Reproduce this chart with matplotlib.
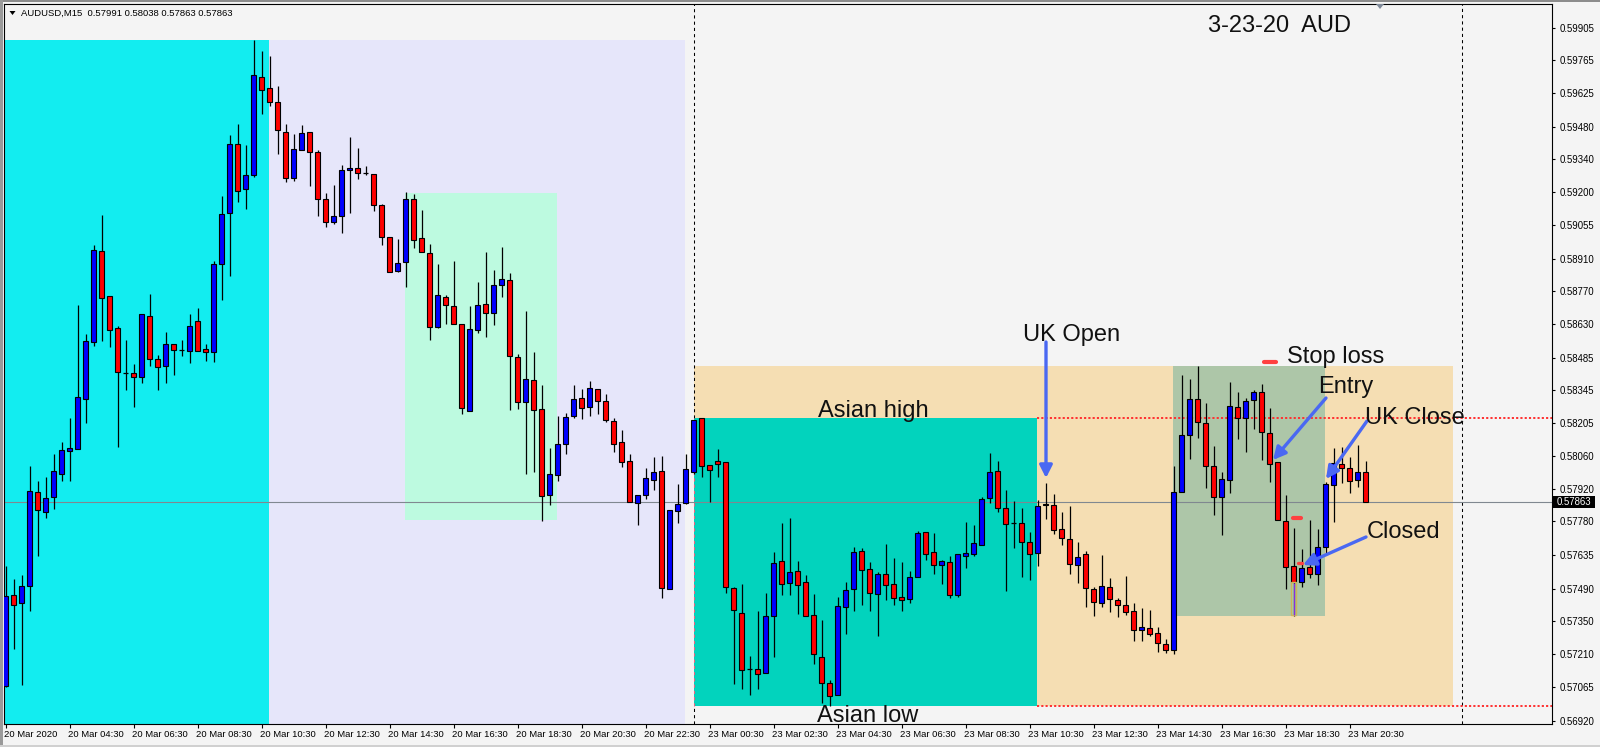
import matplotlib
matplotlib.use('Agg')
import matplotlib.pyplot as plt
from matplotlib.patches import Rectangle, FancyArrowPatch, Polygon
import matplotlib.transforms as mtransforms
import numpy as np

plt.rcParams['font.family'] = ['Liberation Sans', 'DejaVu Sans']

# ---------------- data (AUDUSD M15, bars from 20 Mar 02:30) ----------------
opens = [0.57072, 0.57461, 0.57429, 0.57501, 0.57905, 0.57820, 0.57885, 0.57985, 0.58083, 0.58092,
         0.58309, 0.58552, 0.58943, 0.58749, 0.58612, 0.58421, 0.58421, 0.58403, 0.58663, 0.58478,
         0.58447, 0.58543, 0.58516, 0.58512, 0.58641, 0.58521, 0.58509, 0.58887, 0.59108, 0.59404,
         0.59212, 0.59270, 0.59692, 0.59645, 0.59585, 0.59455, 0.59258, 0.59381, 0.59455, 0.59369,
         0.59167, 0.59069, 0.59093, 0.59292, 0.59301, 0.59281, 0.59275, 0.59141, 0.59003, 0.58860,
         0.58898, 0.59170, 0.59000, 0.58935, 0.58617, 0.58746, 0.58706, 0.58632, 0.58257, 0.58603,
         0.58715, 0.58677, 0.58797, 0.58818, 0.58486, 0.58294, 0.58387, 0.58263, 0.57892, 0.57978,
         0.58112, 0.58232, 0.58310, 0.58272, 0.58349, 0.58297, 0.58214, 0.58120, 0.58038, 0.57858,
         0.57892, 0.57957, 0.57995, 0.57488, 0.57826, 0.57858, 0.57994, 0.58223, 0.58022, 0.58039,
         0.58035, 0.57491, 0.57384, 0.57146, 0.57143, 0.57125, 0.57372, 0.57608, 0.57514, 0.57565,
         0.57518, 0.57376, 0.57195, 0.57083, 0.57031, 0.57413, 0.57488, 0.57651, 0.57574, 0.57466,
         0.57553, 0.57509, 0.57453, 0.57445, 0.57539, 0.57733, 0.57647, 0.57591, 0.57604, 0.57461,
         0.57630, 0.57640, 0.57680, 0.57880, 0.57996, 0.57837, 0.57772, 0.57772, 0.57690, 0.57643,
         0.57851, 0.57849, 0.57746, 0.57703, 0.57591, 0.57638, 0.57489, 0.57427, 0.57496, 0.57440,
         0.57419, 0.57393, 0.57313, 0.57320, 0.57298, 0.57252, 0.57225, 0.57905, 0.58151, 0.58306,
         0.58202, 0.58019, 0.57884, 0.57957, 0.58271, 0.58224, 0.58301, 0.58336, 0.58159, 0.58034,
         0.57780, 0.57587, 0.57518, 0.57582, 0.57555, 0.57668, 0.57935, 0.58026, 0.58008, 0.57958,
         0.57991]
highs = [0.57588, 0.57530, 0.57548, 0.58019, 0.57954, 0.57972, 0.58070, 0.58123, 0.58226, 0.58711,
         0.58588, 0.58969, 0.59099, 0.58749, 0.58621, 0.58561, 0.58458, 0.58672, 0.58760, 0.58498,
         0.58596, 0.58543, 0.58561, 0.58672, 0.58699, 0.58545, 0.58900, 0.59179, 0.59443, 0.59491,
         0.59402, 0.59853, 0.59804, 0.59786, 0.59654, 0.59490, 0.59449, 0.59487, 0.59455, 0.59379,
         0.59195, 0.59229, 0.59315, 0.59435, 0.59389, 0.59310, 0.59275, 0.59147, 0.59003, 0.58996,
         0.59198, 0.59189, 0.59121, 0.58973, 0.58889, 0.58755, 0.58901, 0.58632, 0.58707, 0.58810,
         0.58940, 0.58863, 0.58961, 0.58849, 0.58501, 0.58686, 0.58509, 0.58367, 0.58098, 0.58235,
         0.58247, 0.58367, 0.58350, 0.58384, 0.58349, 0.58329, 0.58224, 0.58174, 0.58071, 0.57892,
         0.58011, 0.58058, 0.58061, 0.57828, 0.57941, 0.58070, 0.58217, 0.58225, 0.58022, 0.58092,
         0.58035, 0.57496, 0.57511, 0.57201, 0.57395, 0.57472, 0.57649, 0.57773, 0.57795, 0.57610,
         0.57550, 0.57468, 0.57356, 0.57098, 0.57455, 0.57519, 0.57670, 0.57664, 0.57606, 0.57560,
         0.57683, 0.57623, 0.57606, 0.57567, 0.57739, 0.57733, 0.57730, 0.57614, 0.57633, 0.57638,
         0.57778, 0.57765, 0.57885, 0.58075, 0.58040, 0.57915, 0.57868, 0.57836, 0.57734, 0.57872,
         0.57944, 0.57898, 0.57821, 0.57846, 0.57691, 0.57653, 0.57496, 0.57634, 0.57535, 0.57448,
         0.57544, 0.57427, 0.57407, 0.57399, 0.57327, 0.57272, 0.58019, 0.58410, 0.58392, 0.58449,
         0.58288, 0.58105, 0.57994, 0.58379, 0.58339, 0.58310, 0.58346, 0.58372, 0.58268, 0.58034,
         0.57894, 0.57750, 0.57661, 0.57786, 0.57747, 0.57951, 0.58095, 0.58102, 0.58059, 0.58109,
         0.58038]
lows = [0.57065, 0.57229, 0.57075, 0.57394, 0.57633, 0.57793, 0.57833, 0.57952, 0.57954, 0.58092,
        0.58204, 0.58534, 0.58556, 0.58529, 0.58099, 0.58344, 0.58271, 0.58376, 0.58447, 0.58347,
        0.58374, 0.58409, 0.58490, 0.58460, 0.58512, 0.58469, 0.58465, 0.58735, 0.58838, 0.59157,
        0.59123, 0.59261, 0.59536, 0.59570, 0.59364, 0.59243, 0.59247, 0.59378, 0.59226, 0.59093,
        0.59049, 0.59061, 0.59020, 0.59106, 0.59256, 0.59272, 0.59118, 0.58970, 0.58852, 0.58855,
        0.58790, 0.58955, 0.58941, 0.58563, 0.58611, 0.58632, 0.58632, 0.58241, 0.58257, 0.58589,
        0.58575, 0.58627, 0.58744, 0.58261, 0.58263, 0.57986, 0.57991, 0.57783, 0.57852, 0.57955,
        0.58068, 0.58223, 0.58220, 0.58232, 0.58244, 0.58209, 0.58077, 0.58012, 0.57863, 0.57766,
        0.57875, 0.57917, 0.57448, 0.57488, 0.57771, 0.57855, 0.57983, 0.57973, 0.57865, 0.57973,
        0.57473, 0.57080, 0.57059, 0.57034, 0.57060, 0.57125, 0.57195, 0.57461, 0.57465, 0.57383,
        0.57372, 0.57164, 0.57000, 0.56983, 0.57031, 0.57293, 0.57392, 0.57418, 0.57396, 0.57288,
        0.57442, 0.57422, 0.57393, 0.57430, 0.57539, 0.57614, 0.57555, 0.57512, 0.57448, 0.57456,
        0.57581, 0.57633, 0.57677, 0.57857, 0.57822, 0.57479, 0.57667, 0.57542, 0.57529, 0.57589,
        0.57789, 0.57724, 0.57677, 0.57552, 0.57513, 0.57413, 0.57374, 0.57410, 0.57391, 0.57367,
        0.57376, 0.57264, 0.57264, 0.57288, 0.57219, 0.57215, 0.57210, 0.57905, 0.58047, 0.58140,
        0.57922, 0.57806, 0.57720, 0.57904, 0.58133, 0.58077, 0.58176, 0.58044, 0.57951, 0.57785,
        0.57490, 0.57374, 0.57499, 0.57538, 0.57508, 0.57643, 0.57779, 0.57947, 0.57904, 0.57930,
        0.57863]
closes = [0.57458, 0.57419, 0.57503, 0.57911, 0.57827, 0.57882, 0.57996, 0.58086, 0.58095, 0.58315,
          0.58556, 0.58947, 0.58740, 0.58603, 0.58425, 0.58421, 0.58403, 0.58672, 0.58481, 0.58443,
          0.58543, 0.58518, 0.58516, 0.58621, 0.58512, 0.58509, 0.58887, 0.59103, 0.59407, 0.59201,
          0.59270, 0.59704, 0.59637, 0.59585, 0.59465, 0.59258, 0.59382, 0.59452, 0.59370, 0.59167,
          0.59069, 0.59096, 0.59292, 0.59301, 0.59278, 0.59281, 0.59144, 0.59003, 0.58855, 0.58892,
          0.59167, 0.58993, 0.58941, 0.58617, 0.58753, 0.58710, 0.58632, 0.58267, 0.58609, 0.58710,
          0.58677, 0.58797, 0.58823, 0.58490, 0.58294, 0.58392, 0.58258, 0.57888, 0.57983, 0.58112,
          0.58229, 0.58306, 0.58267, 0.58353, 0.58297, 0.58215, 0.58112, 0.58035, 0.57863, 0.57892,
          0.57966, 0.57991, 0.57494, 0.57828, 0.57854, 0.58004, 0.58215, 0.58017, 0.58000, 0.58026,
          0.57496, 0.57397, 0.57139, 0.57146, 0.57122, 0.57372, 0.57601, 0.57509, 0.57561, 0.57505,
          0.57372, 0.57208, 0.57086, 0.57027, 0.57415, 0.57484, 0.57647, 0.57570, 0.57471, 0.57553,
          0.57505, 0.57449, 0.57440, 0.57539, 0.57729, 0.57640, 0.57591, 0.57608, 0.57462, 0.57638,
          0.57643, 0.57686, 0.57875, 0.57992, 0.57837, 0.57768, 0.57772, 0.57691, 0.57638, 0.57845,
          0.57853, 0.57742, 0.57707, 0.57595, 0.57625, 0.57492, 0.57432, 0.57501, 0.57445, 0.57419,
          0.57390, 0.57313, 0.57324, 0.57295, 0.57255, 0.57225, 0.57905, 0.58151, 0.58306, 0.58208,
          0.58019, 0.57884, 0.57961, 0.58275, 0.58224, 0.58298, 0.58337, 0.58163, 0.58026, 0.57785,
          0.57582, 0.57518, 0.57579, 0.57552, 0.57668, 0.57941, 0.58030, 0.58008, 0.57953, 0.57991,
          0.57863]

time_labels = ['20 Mar 2020', '20 Mar 04:30', '20 Mar 06:30', '20 Mar 08:30', '20 Mar 10:30',
               '20 Mar 12:30', '20 Mar 14:30', '20 Mar 16:30', '20 Mar 18:30', '20 Mar 20:30',
               '20 Mar 22:30', '23 Mar 00:30', '23 Mar 02:30', '23 Mar 04:30', '23 Mar 06:30',
               '23 Mar 08:30', '23 Mar 10:30', '23 Mar 12:30', '23 Mar 14:30', '23 Mar 16:30',
               '23 Mar 18:30', '23 Mar 20:30']
label_every = 8
price_ticks = [0.59905, 0.59765, 0.59625, 0.59480, 0.59340, 0.59200, 0.59055, 0.58910, 0.58770,
               0.58630, 0.58485, 0.58345, 0.58205, 0.58060, 0.57920, 0.57780, 0.57635, 0.57490,
               0.57350, 0.57210, 0.57065, 0.56920]
last_price = 0.57863
header = 'AUDUSD,M15  0.57991 0.58038 0.57863 0.57863'

# day separators (bar index of midnight)
day_separators = [86, 182]
# session boxes: (x_start, x_end, low, high, colour)
asian_high = 0.58225
asian_low = 0.56983
boxes = [
    (-1.0, 32.9, 0.5600, 0.59853, '#12EDF0'),
    (32.9, 84.9, 0.5600, 0.59853, '#E6E6FA'),
    (49.9, 68.9, 0.57785, 0.59192, '#BDFAE0'),
    (86.0, 180.9, asian_low, 0.58449, '#F5DEB3'),
    (86.0, 128.9, asian_low, asian_high, '#02D3BD'),
    (145.9, 164.9, 0.57374, 0.58449, '#ADC6A8'),
]
asian_end = 128.9
stop_loss = 0.58468
entry_price = 0.57796
closed_price = 0.57602

# ---------------- figure ----------------
W, H = 1600, 747
fig = plt.figure(figsize=(W / 100, H / 100), dpi=100, facecolor='#F4F4F4')
L, R, T, B = 4, 1552, 4, 724
ax = fig.add_axes([L / W, 1 - B / H, (R - L) / W, (B - T) / H])
ax.set_facecolor('#F4F4F4')

x0px, dx = 5.7, 8.0
ax.set_xlim((L - x0px) / dx, (R - x0px) / dx)
ax.set_ylim(0.569075, 0.600078)

def fx(x):
    return x / W

def fy(y):
    return 1 - y / H

for xs, xe, lo, hi, col in boxes:
    ax.add_patch(Rectangle((xs, lo), xe - xs, hi - lo, facecolor=col, edgecolor='none', zorder=1))

# separators
ylo, yhi = ax.get_ylim()
sep_kw = dict(color='black', lw=0.75, linestyle=(0, (3, 3)), zorder=2)
ax.plot([day_separators[0]] * 2, [asian_high, yhi], **sep_kw)
ax.plot([day_separators[0]] * 2, [ylo, asian_low], **sep_kw)
ax.plot([day_separators[1]] * 2, [ylo, yhi], **sep_kw)
red_kw = dict(color='#FF3030', lw=1.4, linestyle=(0, (1.1, 1.1)), zorder=2)
ax.plot([day_separators[0]] * 2, [asian_low, asian_high], color='#F06080', lw=0.75,
        linestyle=(0, (3, 3)), zorder=2)
ax.plot([asian_end, 300], [asian_high, asian_high], **red_kw)
ax.plot([asian_end, 300], [asian_low, asian_low], **red_kw)

# bid line
ax.axhline(last_price, color='#808890', lw=0.8, zorder=2.5)

# candles
o = np.array(opens); h = np.array(highs); l = np.array(lows); c = np.array(closes)
x = np.arange(len(o))
ax.vlines(x, l, h, color='black', lw=0.9, zorder=3)
bb = np.minimum(o, c)
bh = np.abs(c - o)
up = c > o
dn = c < o
dj = c == o
bw = 0.62
ax.bar(x[up], bh[up], bottom=bb[up], width=bw, color='#0000FF', edgecolor='black', lw=0.8, zorder=4)
ax.bar(x[dn], bh[dn], bottom=bb[dn], width=bw, color='#FF0000', edgecolor='black', lw=0.8, zorder=4)
ax.hlines(c[dj], x[dj] - bw / 2, x[dj] + bw / 2, color='black', lw=0.9, zorder=4)

# highlighted wick of the closing bar
hl_bar = 161
ax.add_patch(Rectangle((hl_bar - 0.28, l[hl_bar] + 0.00003), 0.56, bb[hl_bar] - l[hl_bar] - 0.00004,
                       facecolor='none', edgecolor='#CDB55A', lw=1.0, zorder=5))
ax.vlines([hl_bar], l[hl_bar] + 0.00003, bb[hl_bar] - 0.00002, color='#8A2BE2', lw=0.8, zorder=5)

# trade markers
mk = dict(color='#FF4040', solid_capstyle='round', zorder=6)
ax.plot([157.3, 158.8], [stop_loss, stop_loss], lw=3.0, **mk)
ax.plot([160.85, 161.85], [entry_price, entry_price], lw=3.0, **mk)
ax.plot([161.55, 162.05], [closed_price, closed_price], lw=2.4, **mk)

# axes styling
for s in ax.spines.values():
    s.set_color('black')
    s.set_linewidth(0.8)
ax.yaxis.tick_right()
ax.set_yticks(price_ticks)
ax.set_yticklabels([f'{v:.5f}' for v in price_ticks])
ax.tick_params(axis='y', direction='out', length=2.5, width=0.8, labelsize=6.9, pad=3.0,
               colors='black')
ticks_x = np.arange(len(time_labels)) * label_every
ax.set_xticks(ticks_x)
ax.set_xticklabels(time_labels, ha='left')
ax.tick_params(axis='x', direction='out', length=3, width=0.8, labelsize=6.8, pad=1.5,
               colors='black')
offset = mtransforms.ScaledTranslation(-2 / 100, 0, fig.dpi_scale_trans)
for lab in ax.get_xticklabels():
    lab.set_transform(lab.get_transform() + offset)

# last price tag
fig.patches.append(Rectangle((fx(1553), fy(508)), 42 / W, 12 / H, transform=fig.transFigure,
                             facecolor='black', edgecolor='none', zorder=10))
fig.text(fx(1557), fy(502), f'{last_price:.5f}', color='white', fontsize=6.9, va='center',
         ha='left', zorder=11)

# header
fig.patches.append(Polygon([[fx(9.5), fy(11)], [fx(15.5), fy(11)], [fx(12.5), fy(15)]],
                           closed=True, transform=fig.transFigure, facecolor='black',
                           edgecolor='none'))
fig.text(fx(21), fy(13.5), header, fontsize=6.8, va='center', ha='left', color='black')

# shift marker
fig.patches.append(Polygon([[fx(1376), fy(4)], [fx(1384), fy(4)], [fx(1380), fy(9)]],
                           closed=True, transform=fig.transFigure, facecolor='#7F8A99',
                           edgecolor='none', zorder=10))

# window borders
fig.patches.append(Rectangle((0, fy(2)), 1, 2 / H, transform=fig.transFigure,
                             facecolor='#8C8C8C', edgecolor='none'))
fig.patches.append(Rectangle((0, 0), 3 / W, 1, transform=fig.transFigure,
                             facecolor='#9A9A9A', edgecolor='none'))
fig.patches.append(Rectangle((0, fy(747)), 1, 2 / H, transform=fig.transFigure,
                             facecolor='#D0D0D0', edgecolor='none'))

# annotation texts
big = dict(fontsize=17, color='#111111', ha='left', va='baseline', zorder=12)
fig.text(fx(1208), fy(32), '3-23-20  AUD', **big)
fig.text(fx(1023), fy(341), 'UK Open', **big)
fig.text(fx(818), fy(417), 'Asian high', **big)
fig.text(fx(817), fy(722), 'Asian low', **big)
fig.text(fx(1287), fy(363), 'Stop loss', **big)
fig.text(fx(1318), fy(393), 'Entry', **big)
fig.text(fx(1365), fy(424), 'UK Close', **big)
fig.text(fx(1367), fy(538), 'Closed', **big)

# arrows
arrow_col = '#4A68F2'
def arrow(p1, p2):
    a = FancyArrowPatch((fx(p1[0]), fy(p1[1])), (fx(p2[0]), fy(p2[1])),
                        transform=fig.transFigure, arrowstyle='-|>,head_length=7.5,head_width=3.8',
                        color=arrow_col, lw=2.4, shrinkA=0, shrinkB=0, zorder=12)
    fig.patches.append(a)

arrow((1046, 342), (1046, 478))
arrow((1326, 398), (1273, 460))
arrow((1367, 421), (1326, 479))
arrow((1366, 537), (1303, 565))

fig.savefig('out.png', dpi=100, facecolor=fig.get_facecolor())
